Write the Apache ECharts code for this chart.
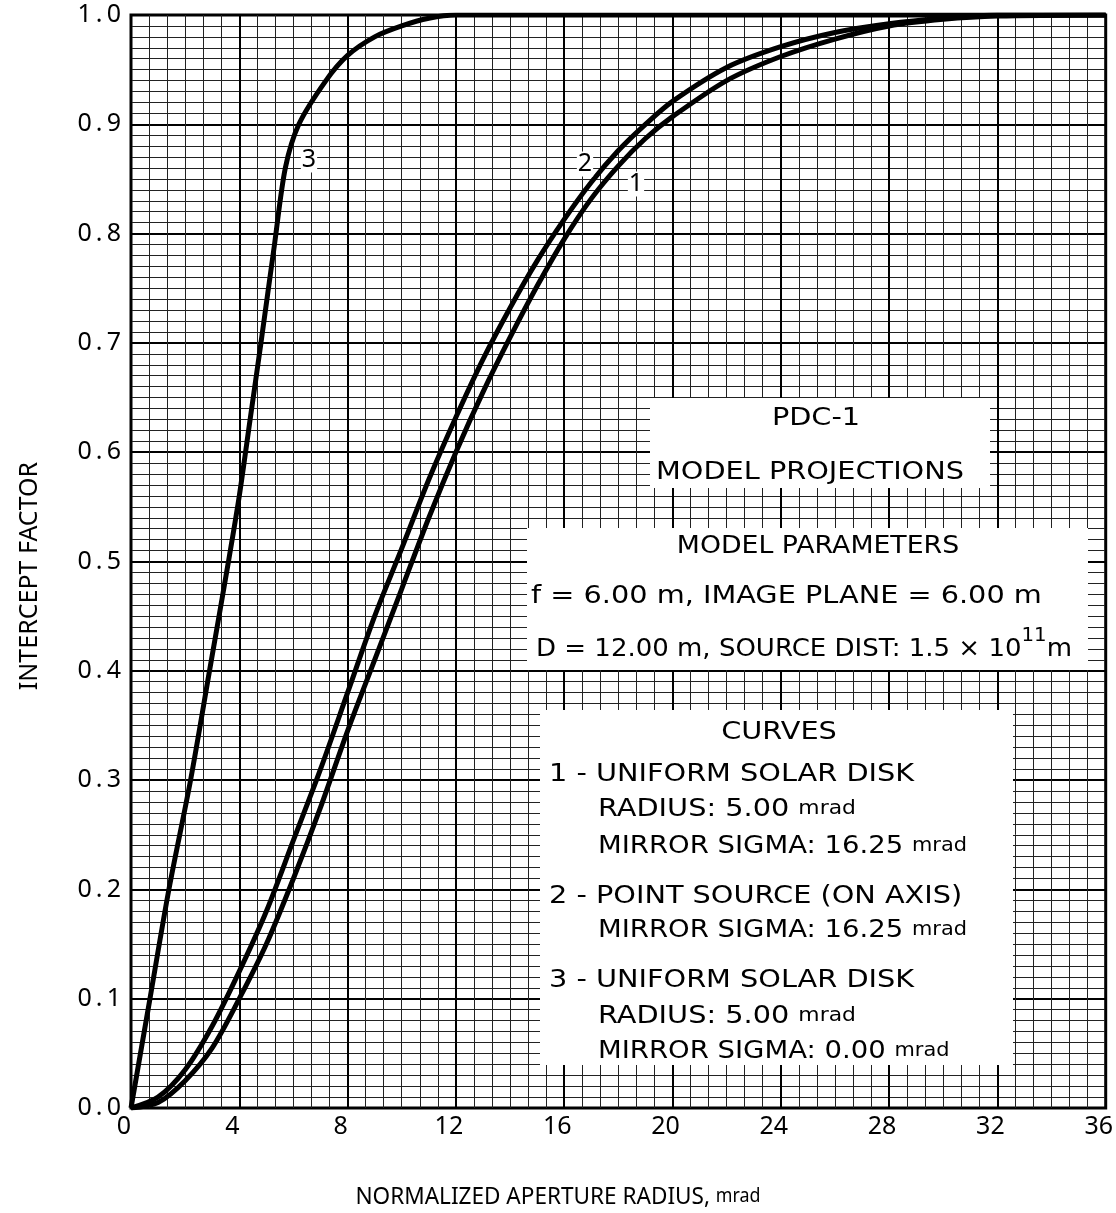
<!DOCTYPE html>
<html>
<head>
<meta charset="utf-8">
<script src="https://cdn.jsdelivr.net/npm/echarts@6/dist/echarts.min.js"></script>
<style>
  html, body { margin: 0; padding: 0; background: #fff; }
  #chart { width: 1116px; height: 1213px; }
</style>
</head>
<body>
<div id="chart"></div>
<script>
// values (x in mrad, y = intercept factor)
const xTicks = [0, 4, 8, 12, 16, 20, 24, 28, 32, 36];
const yTicks = [0, 0.1, 0.2, 0.3, 0.4, 0.5, 0.6, 0.7, 0.8, 0.9, 1.0];

const curve1X = [0, 1, 2, 3, 4, 5, 6, 7, 8, 9, 10, 11, 12, 13, 14, 15, 16, 17, 18, 19, 20, 22, 24, 26, 28, 30, 32, 36];
const curve1Y = [0, 0.005, 0.025, 0.055, 0.1, 0.15, 0.21, 0.275, 0.345, 0.41, 0.475, 0.54, 0.6, 0.655, 0.705, 0.752, 0.795, 0.832, 0.862, 0.887, 0.907, 0.94, 0.962, 0.978, 0.99, 0.996, 0.999, 1.0];

const curve2X = [0, 1, 2, 3, 4, 5, 6, 7, 8, 9, 10, 11, 12, 13, 14, 15, 16, 17, 18, 19, 20, 22, 24, 26, 28, 30, 32, 36];
const curve2Y = [0, 0.01, 0.035, 0.075, 0.125, 0.18, 0.245, 0.31, 0.38, 0.45, 0.512, 0.575, 0.632, 0.685, 0.732, 0.775, 0.813, 0.847, 0.876, 0.9, 0.921, 0.952, 0.971, 0.984, 0.992, 0.997, 1.0, 1.0];

const curve3X = [0, 0.7, 1.4, 2.2, 2.9, 3.6, 4.0, 4.4, 4.8, 5.3, 5.7, 6.2, 7.2, 8, 9, 10, 11, 12, 36];
const curve3Y = [0, 0.1, 0.2, 0.3, 0.4, 0.5, 0.56, 0.63, 0.7, 0.79, 0.86, 0.9, 0.94, 0.963, 0.98, 0.99, 0.997, 1.0, 1.0];

const FONT = 'Noto Sans';
const BOXFONT = 'DejaVu Sans';

function pairs(xs, ys) {
  return xs.map((x, i) => [x, ys[i]]);
}

function curve(name, xs, ys) {
  return {
    name: name,
    type: 'line',
    data: pairs(xs, ys),
    smooth: 0.3,
    symbol: 'none',
    lineStyle: { color: '#000', width: 5 },
    z: 5
  };
}

function box(x, y, w, h) {
  return { type: 'rect', shape: { x: x, y: y, width: w, height: h }, style: { fill: '#fff' }, z: 100 };
}

// box text, stretched a little sideways like the typewriter lettering
function txt(x, y, text, align, size, family, sx) {
  const fam = family || BOXFONT;
  return {
    type: 'text', x: x, y: y, z: 101, scaleX: sx || 1.15,
    style: {
      text: text, align: align || 'left', verticalAlign: 'middle',
      font: (size || 25) + 'px "' + fam + '"', fill: '#000',
      rich: {
        s: { fontSize: 19, fontFamily: fam },
        sup: { fontSize: 19, fontFamily: fam, verticalAlign: 'top', padding: [0, 0, 26, 0] }
      }
    }
  };
}

function tag(x, y, text) {
  return {
    type: 'text', x: x, y: y, z: 101,
    style: { text: text, align: 'center', verticalAlign: 'middle', font: '25px "' + FONT + '"', fill: '#000',
      backgroundColor: '#fff', padding: [0, 1] }
  };
}

const chart = echarts.init(document.getElementById('chart'));

const option = {
  animation: false,
  backgroundColor: '#fff',
  grid: { left: 131, top: 15, width: 986, height: 1093, show: true, borderColor: '#000', borderWidth: 3 },
  xAxis: {
    type: 'value', min: 0, max: 36, interval: 4,
    axisLine: { show: false },
    axisTick: { show: false },
    axisLabel: { color: '#000', fontSize: 25, fontFamily: FONT, margin: 6, padding: [0, 14, 0, 0], showMaxLabel: true },
    splitLine: { show: true, lineStyle: { color: '#000', width: 2 } },
    minorTick: { show: false, splitNumber: 6 },
    minorSplitLine: { show: true, lineStyle: { color: '#222', width: 1 } }
  },
  yAxis: {
    type: 'value', min: 0, max: 1, interval: 0.1,
    axisLine: { show: false },
    axisTick: { show: false },
    axisLabel: { color: '#000', fontSize: 25, fontFamily: FONT, margin: 10,
      formatter: v => v.toFixed(1).replace('.', '\u2009.\u2009') },
    splitLine: { show: true, lineStyle: { color: '#000', width: 2 } },
    minorTick: { show: false, splitNumber: 10 },
    minorSplitLine: { show: true, lineStyle: { color: '#222', width: 1 } }
  },
  series: [
    curve('1', curve1X, curve1Y),
    curve('2', curve2X, curve2Y),
    curve('3', curve3X, curve3Y)
  ],
  graphic: [
    box(650, 398, 340, 90),
    box(527, 528, 561, 142),
    box(540, 710, 473, 355),

    txt(816, 418, 'PDC-1', 'center'),
    txt(810, 472, 'MODEL PROJECTIONS', 'center'),
    txt(818, 546, 'MODEL PARAMETERS', 'center', 25, BOXFONT, 1.07),
    txt(531, 596, 'f = 6.00 m, IMAGE PLANE = 6.00 m'),
    txt(536, 649, 'D = 12.00 m, SOURCE DIST: 1.5 × 10{sup|11}m', 'left', 25, BOXFONT, 1.04),
    txt(779, 732, 'CURVES', 'center'),
    txt(549, 774, '1 - UNIFORM SOLAR DISK'),
    txt(598, 809, 'RADIUS: 5.00 {s|mrad}'),
    txt(598, 846, 'MIRROR SIGMA: 16.25 {s|mrad}', 'left', 25, BOXFONT, 1.1),
    txt(549, 896, '2 - POINT SOURCE (ON AXIS)'),
    txt(598, 930, 'MIRROR SIGMA: 16.25 {s|mrad}', 'left', 25, BOXFONT, 1.1),
    txt(549, 980, '3 - UNIFORM SOLAR DISK'),
    txt(598, 1016, 'RADIUS: 5.00 {s|mrad}'),
    txt(598, 1051, 'MIRROR SIGMA: 0.00 {s|mrad}', 'left', 25, BOXFONT, 1.1),

    tag(309, 160, '3'),
    tag(585, 164, '2'),
    tag(636, 184, '1'),

    txt(558, 1197, 'NORMALIZED APERTURE RADIUS, {s|mrad}', 'center', 24, FONT, 0.94),
    {
      type: 'text', x: 30, y: 576, rotation: Math.PI / 2, z: 101,
      style: { text: 'INTERCEPT FACTOR', align: 'center', verticalAlign: 'middle', font: '25px "' + FONT + '"', fill: '#000' }
    }
  ]
};

chart.setOption(option);
</script>
</body>
</html>
